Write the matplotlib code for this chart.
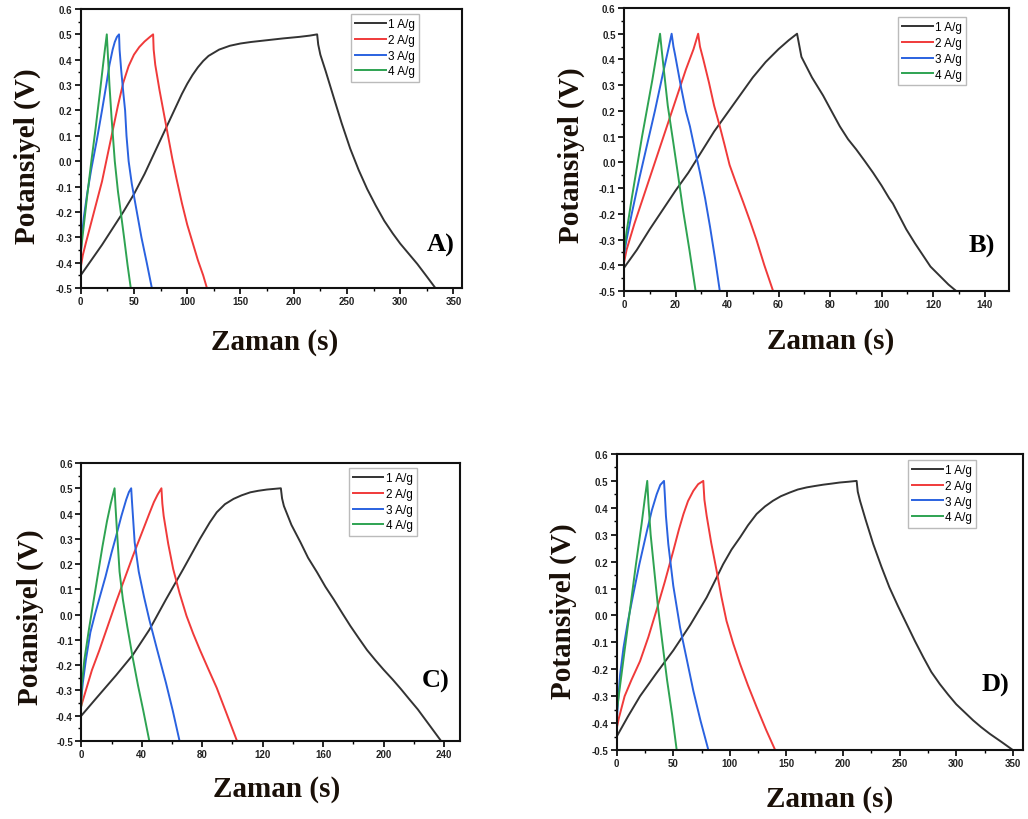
import matplotlib
matplotlib.use("Agg")
import matplotlib.pyplot as plt
from matplotlib.ticker import MultipleLocator, FormatStrFormatter

plt.rcParams['axes.unicode_minus'] = False

labels = ["1 A/g", "2 A/g", "3 A/g", "4 A/g"]
colors = ["#333333", "#f03a3a", "#2a62e0", "#2ea352"]

# ---------------- Panel A ----------------
A_t1 = [0, 10, 20, 30, 40, 50, 60, 70, 80, 90, 95, 100, 105, 110, 115, 120, 130, 140, 150, 160,
        175, 190, 205, 215, 222,
        223, 225, 230, 238, 245, 253, 261, 269, 277, 285, 293, 300, 308, 316, 325, 333]
A_v1 = [-0.45, -0.39, -0.33, -0.265, -0.20, -0.13, -0.05, 0.04, 0.13, 0.22, 0.265, 0.305, 0.34, 0.37,
        0.395, 0.415, 0.44, 0.455, 0.464, 0.47, 0.477, 0.484, 0.49, 0.495, 0.5,
        0.46, 0.42, 0.355, 0.245, 0.15, 0.05, -0.035, -0.11, -0.175, -0.235, -0.285, -0.325,
        -0.365, -0.405, -0.455, -0.5]
A_t2 = [0, 2, 5, 10, 15, 20, 25, 30, 35, 40, 45, 50, 55, 60, 65, 68,
        68.5, 70, 74, 78, 82, 86, 90, 95, 100, 105, 110, 115, 118.5]
A_v2 = [-0.42, -0.37, -0.32, -0.24, -0.16, -0.08, 0.02, 0.12, 0.22, 0.31, 0.375, 0.42, 0.45, 0.472,
        0.49, 0.5,
        0.44, 0.38, 0.28, 0.19, 0.10, 0.01, -0.07, -0.165, -0.25, -0.32, -0.39, -0.45, -0.5]
A_t3 = [0, 1, 3, 6, 10, 15, 20, 24, 27, 30, 32, 34, 36,
        36.5, 38, 40, 41.7, 43, 45, 48, 52.7, 57, 62, 66.8]
A_v3 = [-0.38, -0.30, -0.22, -0.13, -0.03, 0.08, 0.20, 0.30, 0.38, 0.44, 0.47, 0.49, 0.5,
        0.44, 0.36, 0.27, 0.20, 0.10, 0.0, -0.09, -0.20, -0.30, -0.40, -0.5]
A_t4 = [0, 0.3, 3, 6, 10, 14, 18, 21, 23, 24.5,
        25.5, 27, 29, 32, 35, 37.6, 41, 44, 47]
A_v4 = [-0.5, -0.35, -0.25, -0.14, 0.0, 0.13, 0.27, 0.38, 0.45, 0.5,
        0.42, 0.30, 0.17, 0.0, -0.12, -0.20, -0.31, -0.41, -0.5]

# ---------------- Panel B ----------------
B_t1 = [0, 5, 10, 15, 20, 25, 30, 35, 40, 45, 50, 55, 60, 64, 67.2,
        68.9, 73, 77.3, 80, 83.8, 87, 90.2, 93.5, 96.7, 100, 103, 104.4, 107, 109.6, 113, 116,
        119, 122.5, 126, 129]
B_v1 = [-0.41, -0.34, -0.26, -0.185, -0.11, -0.04, 0.04, 0.12, 0.19, 0.26, 0.33, 0.39, 0.44, 0.475, 0.5,
        0.41, 0.33, 0.26, 0.21, 0.14, 0.09, 0.05, 0.005, -0.04, -0.09, -0.14, -0.16, -0.21, -0.26,
        -0.315, -0.36, -0.405, -0.44, -0.475, -0.5]
B_t2 = [0, 1, 4, 8, 12, 16, 20, 24, 27, 28.8,
        29.5, 30.8, 33, 35, 37.2, 39, 41, 43.5, 46.3, 49, 51.4, 54.5, 57.9]
B_v2 = [-0.39, -0.34, -0.24, -0.12, 0.0, 0.12, 0.24, 0.36, 0.44, 0.5,
        0.45, 0.40, 0.31, 0.22, 0.14, 0.07, -0.01, -0.08, -0.155, -0.23, -0.30, -0.40, -0.5]
B_t3 = [0, 1, 3, 6, 9, 12, 15, 17, 18.5,
        19.2, 19.8, 22, 24, 25.6, 27.5, 29.5, 31.5, 33.4, 35.3, 37.2]
B_v3 = [-0.36, -0.30, -0.20, -0.06, 0.07, 0.20, 0.34, 0.43, 0.5,
        0.45, 0.42, 0.30, 0.20, 0.14, 0.05, -0.04, -0.14, -0.25, -0.37, -0.5]
B_t4 = [0, 1, 3, 5, 7, 9, 11, 12.5, 14,
        14.6, 15.3, 17, 19.1, 21, 23, 25.4, 27.8]
B_v4 = [-0.35, -0.27, -0.14, -0.02, 0.10, 0.21, 0.32, 0.41, 0.5,
        0.44, 0.375, 0.22, 0.08, -0.05, -0.19, -0.34, -0.5]

# ---------------- Panel C ----------------
C_t1 = [0, 10, 23, 34, 45, 56, 67.4, 78.5, 85, 89.6, 95, 100.7, 106, 111.8, 117, 122.8, 132,
        132.8, 134, 139, 145, 150, 156, 161.5, 167, 172.5, 178, 183.5, 189, 194.5, 200, 206,
        211.5, 217, 222.6, 230, 238]
C_v1 = [-0.40, -0.33, -0.24, -0.16, -0.06, 0.06, 0.18, 0.30, 0.365, 0.405, 0.437, 0.458, 0.472,
        0.484, 0.49, 0.495, 0.5,
        0.46, 0.43, 0.355, 0.286, 0.225, 0.167, 0.11, 0.06, 0.007, -0.045, -0.093, -0.14, -0.18,
        -0.218, -0.257, -0.295, -0.335, -0.375, -0.435, -0.5]
C_t2 = [0, 3, 7, 12, 17.5, 23, 28.5, 34, 39.5, 45, 48, 50.5, 53,
        53.6, 54.5, 57.5, 60.8, 65, 69.6, 74, 78.5, 84, 89.6, 96, 103]
C_v2 = [-0.36, -0.30, -0.22, -0.14, -0.045, 0.05, 0.14, 0.23, 0.315, 0.40, 0.445, 0.475, 0.5,
        0.44, 0.39, 0.28, 0.18, 0.085, -0.005, -0.075, -0.14, -0.215, -0.29, -0.39, -0.5]
C_t3 = [0, 1, 3, 6, 9, 12, 16, 20, 23, 26.5, 29.7, 31.5, 33,
        33.5, 35.3, 38, 41.5, 45, 50, 56, 60.5, 65]
C_v3 = [-0.33, -0.27, -0.18, -0.07, 0.0, 0.065, 0.15, 0.245, 0.31, 0.39, 0.455, 0.485, 0.5,
        0.45, 0.286, 0.17, 0.07, -0.02, -0.135, -0.27, -0.38, -0.5]
C_t4 = [0, 0.3, 2, 5, 8, 11, 14, 17, 19.5, 22,
        22.6, 23.6, 25.3, 27.5, 30.5, 34, 37.5, 41, 45]
C_v4 = [-0.36, -0.28, -0.18, -0.06, 0.05, 0.16, 0.27, 0.37, 0.44, 0.5,
        0.43, 0.33, 0.17, 0.06, -0.05, -0.17, -0.28, -0.38, -0.5]

# ---------------- Panel D ----------------
D_t1 = [0, 10, 20.6, 35, 50, 65, 79.5, 87, 94, 101.5, 109, 116, 123.6, 131, 138, 145, 153, 160,
        168, 175, 182.5, 190, 197, 205, 212,
        213, 215, 220, 226.7, 234, 241, 248.5, 256, 263.5, 271, 278, 285.5, 293, 300, 307.5,
        315, 322, 329.7, 340, 350]
D_v1 = [-0.45, -0.375, -0.30, -0.215, -0.13, -0.035, 0.067, 0.13, 0.19, 0.245, 0.29, 0.335, 0.377,
        0.405, 0.426, 0.443, 0.457, 0.468, 0.476, 0.481, 0.486, 0.49, 0.494, 0.497, 0.5,
        0.46, 0.426, 0.355, 0.265, 0.18, 0.104, 0.035, -0.03, -0.095, -0.156, -0.21, -0.255,
        -0.295, -0.33, -0.36, -0.39, -0.415, -0.44, -0.47, -0.5]
D_t2 = [0, 2, 7, 13, 20.6, 28, 35, 42.5, 50, 55, 59, 63, 67.7, 72, 76.5,
        77.5, 79.5, 83.5, 88.3, 92.5, 97, 103, 109, 116, 123.6, 132, 140]
D_v2 = [-0.42, -0.38, -0.30, -0.24, -0.17, -0.08, 0.017, 0.125, 0.24, 0.32, 0.377, 0.425, 0.463,
        0.488, 0.5,
        0.43, 0.37, 0.27, 0.166, 0.07, -0.02, -0.105, -0.18, -0.26, -0.34, -0.425, -0.5]
D_t3 = [0, 1, 3, 6, 10, 14.7, 20, 26.5, 31, 35.3, 38.5, 41.8,
        42.5, 43.5, 45.6, 50, 56, 62, 67.7, 74, 81]
D_v3 = [-0.40, -0.33, -0.22, -0.12, -0.02, 0.08, 0.19, 0.31, 0.39, 0.45, 0.485, 0.5,
        0.45, 0.37, 0.265, 0.11, -0.045, -0.165, -0.28, -0.39, -0.5]
D_t4 = [0, 0.3, 3, 7, 12, 17, 22, 25, 27,
        28, 30, 32.4, 36.5, 41.2, 44.5, 49, 53]
D_v4 = [-0.5, -0.35, -0.26, -0.13, 0.03, 0.19, 0.34, 0.44, 0.5,
        0.42, 0.30, 0.20, 0.03, -0.13, -0.24, -0.37, -0.5]

panels = [
    dict(name="A)", series=[(A_t1, A_v1), (A_t2, A_v2), (A_t3, A_v3), (A_t4, A_v4)],
         xlim=358, major=50, minor=25),
    dict(name="B)", series=[(B_t1, B_v1), (B_t2, B_v2), (B_t3, B_v3), (B_t4, B_v4)],
         xlim=149.5, major=20, minor=10),
    dict(name="C)", series=[(C_t1, C_v1), (C_t2, C_v2), (C_t3, C_v3), (C_t4, C_v4)],
         xlim=250.5, major=40, minor=20),
    dict(name="D)", series=[(D_t1, D_v1), (D_t2, D_v2), (D_t3, D_v3), (D_t4, D_v4)],
         xlim=359, major=50, minor=25),
]

W, H = 1028, 820
fig = plt.figure(figsize=(W / 100, H / 100), dpi=100)

# axes boxes in pixels: left, right, top, bottom
boxes = [(80.7, 462, 10, 289), (624, 1009, 9, 292), (81.3, 460, 464, 742), (616.7, 1023, 455, 751)]
ylabel_pos = [(27, 156), (571, 155), (30, 617), (563, 611)]
xlabel_pos = [(275, 343), (831, 342), (277, 790), (830, 800)]
letter_pos = [(441, 245), (982, 246), (436, 681), (995, 685)]
legend_anchor = [(0.887, 0.982), (0.888, 0.968), (0.886, 0.982), (0.884, 0.98)]

serif = "Liberation Serif"
sans = "Liberation Sans"

for p, box, ylp, xlp, lp, la in zip(panels, boxes, ylabel_pos, xlabel_pos, letter_pos, legend_anchor):
    l, r, t, b = box
    ax = fig.add_axes([l / W, 1 - b / H, (r - l) / W, (b - t) / H])
    for (tt, vv), c, lab in zip(p["series"], colors, labels):
        ax.plot(tt, vv, color=c, lw=1.4, label=lab, solid_joinstyle='round')
    ax.set_xlim(0, p["xlim"])
    ax.set_ylim(-0.5, 0.6)
    ax.xaxis.set_major_locator(MultipleLocator(p["major"]))
    ax.xaxis.set_minor_locator(MultipleLocator(p["minor"]))
    ax.yaxis.set_major_locator(MultipleLocator(0.1))
    ax.yaxis.set_minor_locator(MultipleLocator(0.05))
    ax.yaxis.set_major_formatter(FormatStrFormatter('%.1f'))
    ax.tick_params(which='major', direction='out', length=4, width=1.2,
                   labelsize=7, pad=2, top=False, right=False)
    ax.tick_params(which='minor', direction='out', length=2.5, width=1.0,
                   top=False, right=False)
    for lbl in ax.get_xticklabels() + ax.get_yticklabels():
        lbl.set_fontfamily(sans)
        lbl.set_fontweight('bold')
        lbl.set_color('#222222')
    for s in ax.spines.values():
        s.set_linewidth(1.5)
        s.set_color('#111111')
    leg = ax.legend(loc='upper right', bbox_to_anchor=la, frameon=True, fancybox=False,
                    prop={'family': sans, 'size': 8.5}, handlelength=2.6, handletextpad=0.2,
                    labelspacing=0.32, borderpad=0.35, borderaxespad=0.0)
    leg.get_frame().set_edgecolor('#aaaaaa')
    leg.get_frame().set_linewidth(1.0)
    fig.text(lp[0] / W, 1 - lp[1] / H, p["name"], ha='center', va='center',
             family=serif, weight='bold', size=19)
    fig.text(ylp[0] / W, 1 - ylp[1] / H, "Potansiyel (V)", ha='center', va='center',
             rotation=90, family=serif, weight='bold', size=21, color='#1a1008')
    fig.text(xlp[0] / W, 1 - xlp[1] / H, "Zaman (s)", ha='center', va='center',
             family=serif, weight='bold', size=21, color='#1a1008')

fig.savefig("out.png", dpi=100)
